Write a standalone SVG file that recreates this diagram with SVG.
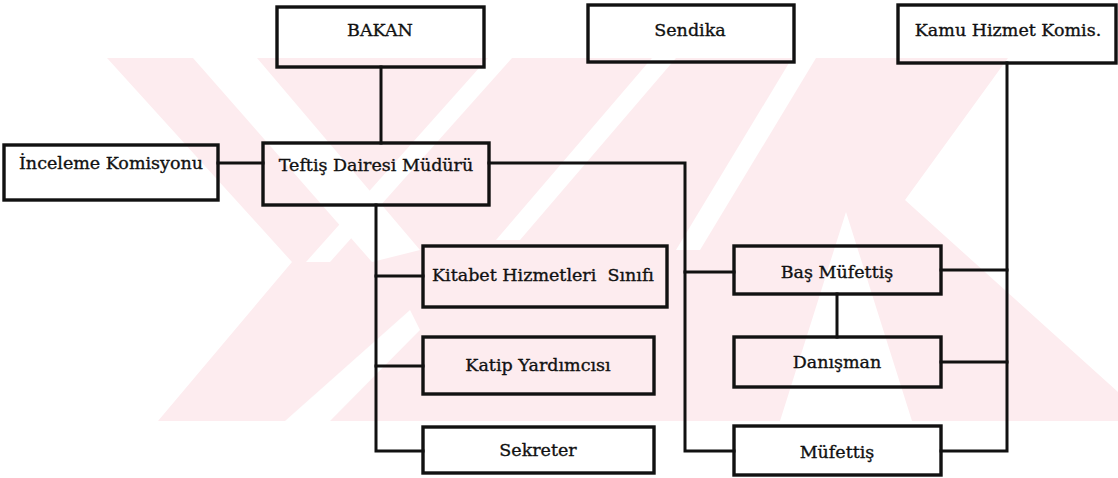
<svg xmlns="http://www.w3.org/2000/svg" width="1118" height="478" viewBox="0 0 1118 478">
  <style>
    .box { fill: none; stroke: #111; stroke-width: 3.4; }
    .lbl { font-family: "DejaVu Serif", "Liberation Serif", serif; font-size: 17.5px; fill: #111; stroke: #111; stroke-width: 0.35; text-anchor: middle; }
    .conn { fill: none; stroke: #111; stroke-width: 3; stroke-linecap: square; }
    .wm { fill: #fdecef; }
    .wmw { fill: #ffffff; }
  </style>
  <rect x="0" y="0" width="1118" height="478" fill="#ffffff"/>
  <g id="watermark">
    <polygon class="wm" points="107,58 1008,58 905,200 1118,392 1118,421 912,421 846,212 780,421 158,421 292,262"/>
    <polygon class="wmw" points="193,58 257,58 420,250 372,262"/>
    <polygon class="wmw" points="488,58 512,58 330,262 306,262"/>
    <polygon class="wmw" points="652,58 676,58 520,240 496,240"/>
    <polygon class="wmw" points="792,58 816,58 700,250 676,250"/>
    <polygon class="wmw" points="285,421 330,421 420,330 410,310"/>
  </g>
  <g id="connectors">
    <path class="conn" d="M381,67 V143"/>
    <path class="conn" d="M218,163 H263"/>
    <path class="conn" d="M489,163 H685 V451 H734"/>
    <path class="conn" d="M685,272 H734"/>
    <path class="conn" d="M376,205 V451 H423"/>
    <path class="conn" d="M376,276 H423"/>
    <path class="conn" d="M376,366 H423"/>
    <path class="conn" d="M1007,63 V451 H941"/>
    <path class="conn" d="M1007,270 H941"/>
    <path class="conn" d="M1007,362 H941"/>
    <path class="conn" d="M837,294 V337"/>
  </g>
  <g id="bakan">
    <rect class="box" x="277" y="7" width="207" height="60"/>
    <text class="lbl" x="380" y="36">BAKAN</text>
  </g>
  <g id="sendika">
    <rect class="box" x="588" y="5" width="206" height="57"/>
    <text class="lbl" x="690" y="36">Sendika</text>
  </g>
  <g id="kamu">
    <rect class="box" x="898" y="5" width="218" height="58"/>
    <text class="lbl" x="1008" y="36">Kamu Hizmet Komis.</text>
  </g>
  <g id="inceleme">
    <rect class="box" x="4" y="145" width="214" height="55"/>
    <text class="lbl" x="111" y="169">İnceleme Komisyonu</text>
  </g>
  <g id="teftis">
    <rect class="box" x="263" y="143" width="226" height="62"/>
    <text class="lbl" x="376" y="171">Teftiş Dairesi Müdürü</text>
  </g>
  <g id="kitabet">
    <rect class="box" x="423" y="246" width="244" height="61"/>
    <text class="lbl" x="543" y="281" style="white-space:pre">Kitabet Hizmetleri  Sınıfı</text>
  </g>
  <g id="katip">
    <rect class="box" x="423" y="337" width="231" height="57"/>
    <text class="lbl" x="538" y="371">Katip Yardımcısı</text>
  </g>
  <g id="sekreter">
    <rect class="box" x="423" y="427" width="231" height="46"/>
    <text class="lbl" x="538" y="456">Sekreter</text>
  </g>
  <g id="basmufettis">
    <rect class="box" x="734" y="246" width="207" height="48"/>
    <text class="lbl" x="837" y="278">Baş Müfettiş</text>
  </g>
  <g id="danisman">
    <rect class="box" x="734" y="337" width="207" height="50"/>
    <text class="lbl" x="837" y="368">Danışman</text>
  </g>
  <g id="mufettis">
    <rect class="box" x="734" y="426" width="207" height="49"/>
    <text class="lbl" x="837" y="458">Müfettiş</text>
  </g>
</svg>
